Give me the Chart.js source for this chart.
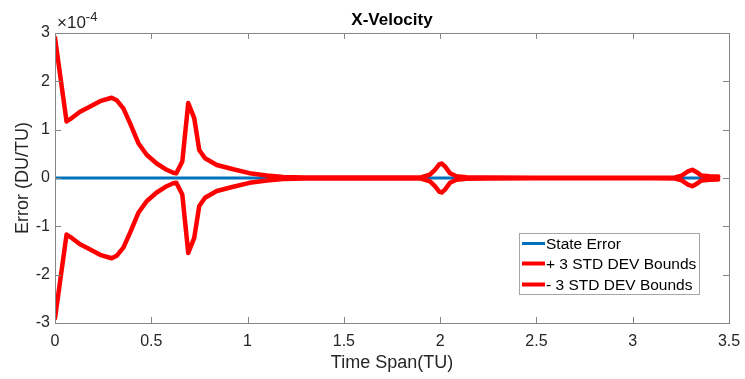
<!DOCTYPE html>
<html><head><meta charset="utf-8">
<script src="https://cdn.jsdelivr.net/npm/chart.js@4"></script>
<style>html,body{margin:0;padding:0;background:#fff;overflow:hidden}</style>
</head><body>
<div style="width:745px;height:379px"><canvas id="c" width="745" height="379"></canvas></div>
<script>
// Time Span (TU)
const timeTU = [0, 0.06, 0.087, 0.13, 0.173, 0.234, 0.294, 0.32, 0.355, 0.39, 0.433, 0.476, 0.528, 0.58, 0.614, 0.63, 0.661, 0.692, 0.723, 0.749, 0.779, 0.84, 0.926, 1.01, 1.10, 1.185, 1.30, 1.5, 1.7, 1.9, 1.947, 1.973, 1.995, 2.008, 2.025, 2.051, 2.085, 2.137, 2.25, 2.5, 2.8, 3.1, 3.22, 3.254, 3.289, 3.31, 3.332, 3.357, 3.40, 3.444];
// +3 sigma bound (x 1e-4 DU/TU)
const plusBound = [2.9, 1.17, 1.24, 1.37, 1.46, 1.59, 1.66, 1.61, 1.44, 1.13, 0.72, 0.48, 0.30, 0.17, 0.11, 0.10, 0.34, 1.55, 1.24, 0.58, 0.41, 0.27, 0.18, 0.10, 0.05, 0.02, 0.012, 0.008, 0.008, 0.012, 0.07, 0.17, 0.28, 0.30, 0.24, 0.10, 0.035, 0.014, 0.008, 0.005, 0.005, 0.006, 0.012, 0.05, 0.14, 0.17, 0.12, 0.05, 0.035, 0.03];
// -3 sigma bound (x 1e-4 DU/TU)
const minusBound = [-2.9, -1.17, -1.24, -1.37, -1.46, -1.59, -1.66, -1.61, -1.44, -1.13, -0.72, -0.48, -0.30, -0.17, -0.11, -0.10, -0.34, -1.55, -1.24, -0.58, -0.41, -0.27, -0.18, -0.10, -0.05, -0.02, -0.012, -0.008, -0.008, -0.012, -0.07, -0.17, -0.28, -0.30, -0.24, -0.10, -0.035, -0.014, -0.008, -0.005, -0.005, -0.006, -0.012, -0.05, -0.14, -0.17, -0.12, -0.05, -0.035, -0.03];
// State error
const stateTime = [0, 0.5, 1.0, 1.5, 2.0, 2.5, 3.0, 3.43];
const stateError = [0, 0, 0, 0, 0, 0, 0, 0];
const xTicks = [0, 0.5, 1, 1.5, 2, 2.5, 3, 3.5];
const yTicks = [-3, -2, -1, 0, 1, 2, 3];
const seriesNames = ['State Error', '+ 3 STD DEV Bounds', '- 3 STD DEV Bounds'];

const FONT = '"Liberation Sans", Arial, Helvetica, sans-serif';
const TXT = '#262626';
const AX = '#868686';

const pts = (xs, ys) => xs.map((x, i) => ({x: x, y: ys[i]}));

const framePlugin = {
  id: 'frame',
  afterDatasetsDraw(chart) {
    const {ctx, chartArea: a, scales: {x, y}} = chart;
    ctx.save();
    ctx.strokeStyle = AX;
    ctx.lineWidth = 1;
    ctx.strokeRect(Math.round(a.left) + 0.5, Math.round(a.top) + 0.5, Math.round(a.right - a.left), Math.round(a.bottom - a.top));
    const L = 6;
    ctx.beginPath();
    xTicks.forEach(v => {
      const px = Math.round(x.getPixelForValue(v)) + 0.5;
      ctx.moveTo(px, a.bottom); ctx.lineTo(px, a.bottom - L);
      ctx.moveTo(px, a.top); ctx.lineTo(px, a.top + L);
    });
    yTicks.forEach(v => {
      const py = Math.round(y.getPixelForValue(v)) + 0.5;
      ctx.moveTo(a.left, py); ctx.lineTo(a.left + L, py);
      ctx.moveTo(a.right, py); ctx.lineTo(a.right - L, py);
    });
    ctx.stroke();

    // title
    ctx.fillStyle = '#000';
    ctx.font = 'bold 17px ' + FONT;
    ctx.textAlign = 'center';
    ctx.textBaseline = 'alphabetic';
    ctx.fillText('X-Velocity', (a.left + a.right) / 2, 25);
    // exponent
    ctx.fillStyle = TXT;
    ctx.textAlign = 'left';
    ctx.font = '17px ' + FONT;
    ctx.fillText('\u00d710', 57, 28);
    const w = ctx.measureText('\u00d710').width;
    ctx.font = '13px ' + FONT;
    ctx.fillText('-4', 57 + w, 21);

    // legend
    const lx = 519.5, ly = 233.5, lw = 180, lh = 61;
    ctx.fillStyle = '#fff';
    ctx.fillRect(lx, ly, lw, lh);
    ctx.strokeStyle = '#a6a6a6';
    ctx.lineWidth = 1;
    ctx.strokeRect(lx, ly, lw, lh);
    const rows = [243.5, 263.5, 284.5];
    chart.data.datasets.forEach((ds, i) => {
      ctx.strokeStyle = ds.borderColor;
      ctx.lineWidth = i === 0 ? 3 : 4;
      ctx.lineCap = 'butt';
      ctx.beginPath();
      ctx.moveTo(522, rows[i]); ctx.lineTo(545, rows[i]);
      ctx.stroke();
      ctx.fillStyle = '#000';
      ctx.font = '15.5px ' + FONT;
      ctx.textBaseline = 'middle';
      ctx.fillText(seriesNames[i], 546, rows[i] + 1);
    });
    ctx.restore();
  }
};

new Chart(document.getElementById('c'), {
  type: 'line',
  data: {
    datasets: [
      {label: seriesNames[0], data: pts(stateTime, stateError), borderColor: '#0072BD', borderWidth: 3, pointRadius: 0, order: 3},
      {label: seriesNames[1], data: pts(timeTU, plusBound), borderColor: '#FF0000', borderWidth: 4.5, pointRadius: 0, order: 1, borderJoinStyle: 'round', borderCapStyle: 'round'},
      {label: seriesNames[2], data: pts(timeTU, minusBound), borderColor: '#FF0000', borderWidth: 4.5, pointRadius: 0, order: 2, borderJoinStyle: 'round', borderCapStyle: 'round'}
    ]
  },
  options: {
    responsive: false,
    animation: false,
    devicePixelRatio: 1,
    layout: {padding: {left: 0, top: 33, right: 16, bottom: 0}},
    plugins: {legend: {display: false}, tooltip: {enabled: false}},
    elements: {line: {tension: 0}},
    scales: {
      x: {
        type: 'linear', min: 0, max: 3.5,
        afterBuildTicks: s => { s.ticks = xTicks.map(v => ({value: v})); },
        afterFit: s => { s.height = 56; s.paddingLeft = 0; s.paddingRight = 0; },
        grid: {display: false, drawTicks: false}, border: {display: false},
        ticks: {color: TXT, font: {family: FONT, size: 16}, padding: 9, maxRotation: 0, callback: v => String(v)},
        title: {display: true, text: 'Time Span(TU)', color: TXT, font: {family: FONT, size: 18}, padding: {top: 0, bottom: 5}}
      },
      y: {
        type: 'linear', min: -3, max: 3,
        afterBuildTicks: s => { s.ticks = yTicks.map(v => ({value: v})); },
        afterFit: s => { s.width = 55; s.paddingTop = 0; s.paddingBottom = 0; },
        grid: {display: false, drawTicks: false}, border: {display: false},
        ticks: {color: TXT, font: {family: FONT, size: 16}, padding: 5, callback: v => String(v)},
        title: {display: true, text: 'Error (DU/TU)', color: TXT, font: {family: FONT, size: 18}, padding: {top: 12, bottom: 0}}
      }
    }
  },
  plugins: [framePlugin]
});
</script>
</body></html>
